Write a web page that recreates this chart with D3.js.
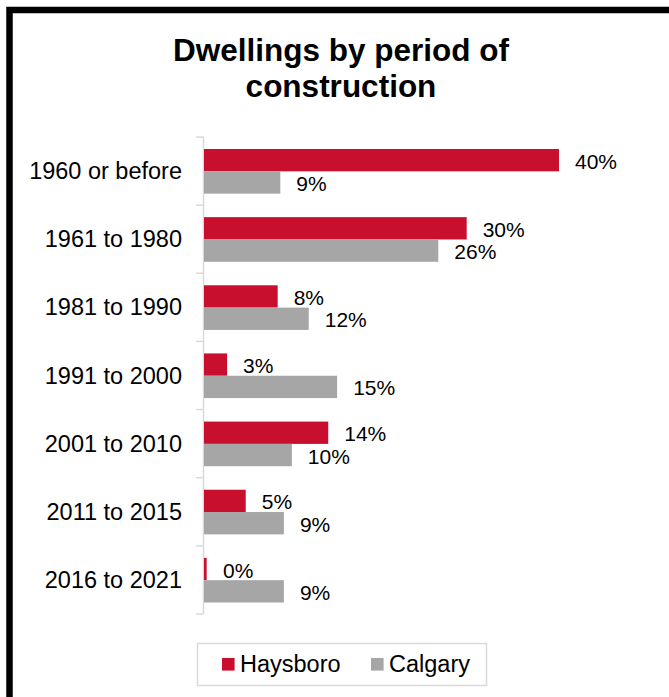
<!DOCTYPE html>
<html>
<head>
<meta charset="utf-8">
<script src="https://cdn.jsdelivr.net/npm/d3@7"></script>
<style>
  body { margin: 0; background: #fff; }
  svg { display: block; font-family: "Liberation Sans", Arial, sans-serif; }
</style>
</head>
<body>
<div class="canva"></div>
<script>
// chart data
const categories = ["1960 or before", "1961 to 1980", "1981 to 1990", "1991 to 2000", "2001 to 2010", "2011 to 2015", "2016 to 2021"];
const seriesNames = ["Haysboro", "Calgary"];
const haysboro = [40, 29.6, 8.3, 2.6, 14, 4.7, 0.3];
const calgary = [8.6, 26.4, 11.8, 15, 9.9, 9, 9];
const colors = ["#C8102E", "#A6A6A6"];
const titleLines = ["Dwellings by period of", "construction"];

const W = 669, H = 697;

const svg = d3.select(".canva").append("svg")
  .attr("width", W)
  .attr("height", H);

svg.append("rect").attr("width", W).attr("height", H).attr("fill", "#fff");

// black frame, only left and top edges show
svg.append("path")
  .attr("d", `M9.5,${H} V10 H${W}`)
  .attr("fill", "none")
  .attr("stroke", "#000")
  .attr("stroke-width", 6.5);

// title
svg.append("text")
  .attr("x", 341)
  .attr("y", 61)
  .attr("text-anchor", "middle")
  .attr("font-size", 31.5)
  .attr("font-weight", "bold")
  .attr("fill", "#000")
  .selectAll("tspan")
  .data(titleLines)
  .enter().append("tspan")
  .attr("x", 341)
  .attr("dy", (d, i) => i === 0 ? 0 : 36)
  .text(d => d);

const y = d3.scaleBand().domain(categories).range([137, 614]);
const sub = d3.scaleBand().domain(seriesNames).range([12, y.bandwidth() - 11.5]);
const x = d3.scaleLinear().domain([0, 40]).range([204, 559]);

const rows = categories.map((c, i) => ({cat: c, vals: [haysboro[i], calgary[i]]}));

// axis with category labels
const yAxis = svg.append("g")
  .attr("transform", "translate(203,0)")
  .call(d3.axisLeft(y).tickSize(0).tickPadding(21));
yAxis.select(".domain").remove();
yAxis.selectAll("text")
  .attr("font-size", 23.5)
  .attr("font-family", "Liberation Sans, Arial, sans-serif")
  .attr("fill", "#000")
  .attr("dy", "0.34em");

// axis line and boundary ticks
const bounds = categories.map(c => y(c)).concat([y.range()[1]]);
svg.append("line")
  .attr("x1", 203.5).attr("x2", 203.5)
  .attr("y1", bounds[0]).attr("y2", bounds[bounds.length - 1])
  .attr("stroke", "#d9d9d9").attr("stroke-width", 1.5);
svg.selectAll(".btick").data(bounds).enter().append("line")
  .attr("class", "btick")
  .attr("x1", 196).attr("x2", 203.5)
  .attr("y1", d => d).attr("y2", d => d)
  .attr("stroke", "#d9d9d9").attr("stroke-width", 1.5);

const groups = svg.selectAll(".row").data(rows).enter().append("g")
  .attr("class", "row")
  .attr("transform", d => `translate(0,${y(d.cat)})`);

groups.selectAll("rect")
  .data(d => d.vals.map((v, j) => ({v: v, s: seriesNames[j], j: j})))
  .enter().append("rect")
  .attr("x", x(0))
  .attr("y", d => sub(d.s))
  .attr("width", d => Math.max(2, x(d.v) - x(0)))
  .attr("height", sub.bandwidth())
  .attr("fill", d => colors[d.j]);

groups.selectAll(".val")
  .data(d => d.vals.map((v, j) => ({v: v, s: seriesNames[j], j: j})))
  .enter().append("text")
  .attr("class", "val")
  .attr("x", d => Math.max(x(d.v), x(0) + 3) + 16)
  .attr("y", d => sub(d.s) + sub.bandwidth() / 2 + 8.5)
  .attr("font-size", 21)
  .attr("fill", "#000")
  .text(d => Math.round(d.v) + "%");

// legend
const legend = svg.append("g");
legend.append("rect")
  .attr("x", 197.5).attr("y", 643.5)
  .attr("width", 289).attr("height", 42)
  .attr("fill", "#fff")
  .attr("stroke", "#d9d9d9")
  .attr("stroke-width", 1.5);
const legX = [222, 371];
const items = legend.selectAll(".item").data(seriesNames).enter().append("g")
  .attr("class", "item")
  .attr("transform", (d, i) => `translate(${legX[i]},658)`);
items.append("rect")
  .attr("width", 12.6).attr("height", 12.6)
  .attr("fill", (d, i) => colors[i]);
items.append("text")
  .attr("x", 18)
  .attr("y", 14)
  .attr("font-size", 23.5)
  .attr("fill", "#000")
  .text(d => d);
</script>
</body>
</html>
